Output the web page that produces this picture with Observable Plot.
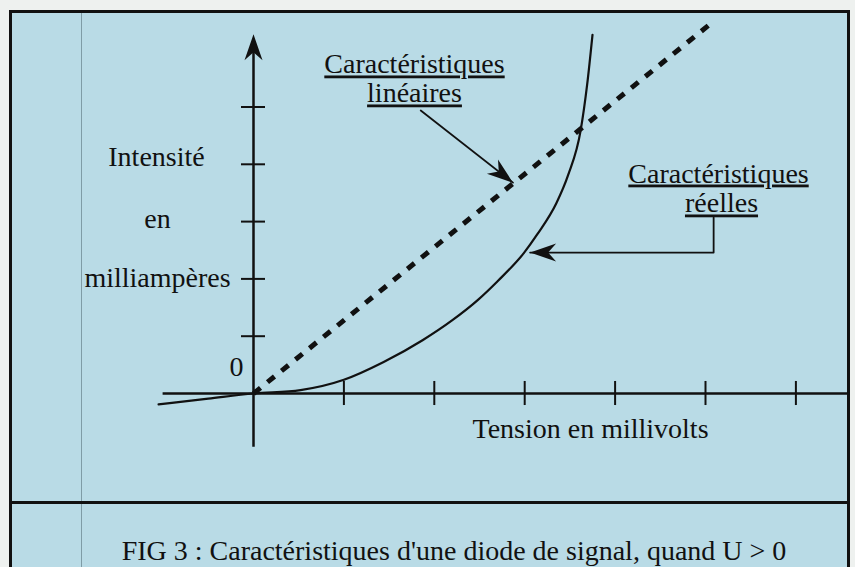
<!DOCTYPE html>
<html>
<head>
<meta charset="utf-8">
<script src="https://cdn.jsdelivr.net/npm/d3@7"></script>
<script src="https://cdn.jsdelivr.net/npm/@observablehq/plot@0.6"></script>
<style>
  html, body { margin: 0; padding: 0; overflow: hidden; }
  body { width: 855px; height: 567px; background: #eef1ef; position: relative; font-family: "Liberation Serif", serif; }
  #frame { position: absolute; left: 9px; top: 10px; width: 835px; height: 600px; border: 3px solid #111; background: #b9dbe6; }
  #divider { position: absolute; left: 9px; top: 501px; width: 841px; height: 3px; background: #111; }
  #rule { position: absolute; left: 81px; top: 13px; width: 1px; height: 560px; background: #7f9ca6; }
  #chart { position: absolute; left: 0; top: 0; }
  #caption { position: absolute; left: 54px; width: 800px; top: 537px; text-align: center; font-size: 28px; line-height: 28px; color: #111; white-space: nowrap; }
  svg text.ul { text-decoration: underline; text-decoration-thickness: 2px; text-underline-offset: 4px; }
</style>
</head>
<body>
<div id="frame"></div>
<div id="rule"></div>
<div id="divider"></div>
<div id="chart"></div>
<div id="caption">FIG 3 : Caractéristiques d'une diode de signal, quand U &gt; 0</div>
<script>
// Real diode characteristic (tension units, intensity units)
const realU = [-1.05, -0.5, 0, 0.52, 1.00, 1.44, 1.87, 2.20, 2.48, 2.70, 2.99, 3.14, 3.35, 3.48, 3.62, 3.69, 3.75];
const realI = [-0.19, -0.09, 0, 0.06, 0.24, 0.55, 0.93, 1.28, 1.63, 1.96, 2.45, 2.78, 3.32, 3.81, 4.60, 5.38, 6.26];
// Linear characteristic
const linU = [0, 5.03];
const linI = [0, 6.42];
// Axis ticks and extents
const xTicks = [1, 2, 3, 4, 5, 6];
const yTicks = [1, 2, 3, 4, 5];
const xAxisExtent = [-1.0, 6.6];
const yAxisExtent = [-0.94, 6.0];
const yArrowTip = [6.27];
// Leader lines
const linLeaderU = [1.85, 2.87];
const linLeaderI = [4.94, 3.68];
const realLeaderU = [5.09, 5.09, 3.06];
const realLeaderI = [3.07, 2.46, 2.46];
// Labels
const plainLabels = ["Intensité", "en", "milliampères", "0", "Tension en millivolts"];
const plainU = [-1.073, -1.062, -1.062, -0.188, 3.728];
const plainI = [3.962, 2.897, 1.850, 0.297, -0.785];
const ulLabels = ["Caractéristiques", "linéaires", "Caractéristiques", "réelles"];
const ulU = [1.781, 1.781, 5.144, 5.177];
const ulI = [5.585, 5.079, 3.682, 3.159];

const realData = realU.map((u, i) => ({u, i: realI[i]}));
const linData = linU.map((u, i) => ({u, i: linI[i]}));
const linLeader = linLeaderU.map((u, i) => ({u, i: linLeaderI[i]}));
const realLeader = realLeaderU.map((u, i) => ({u, i: realLeaderI[i]}));
const plain = plainLabels.map((t, k) => ({t, u: plainU[k], i: plainI[k]}));
const ul = ulLabels.map((t, k) => ({t, u: ulU[k], i: ulI[k]}));

// Barbed filled arrowhead, tip at origin, pointing up
const arrowHead = {
  draw(ctx) {
    const L = 26, W = 18, N = 8;
    ctx.moveTo(0, 0);
    ctx.lineTo(W / 2, L);
    ctx.lineTo(0, L - N);
    ctx.lineTo(-W / 2, L);
    ctx.closePath();
  }
};
const ink = "#111";

const W = 855, H = 500;
const plot = Plot.plot({
  width: W,
  height: H,
  marginLeft: 162.6,
  marginRight: 14.4,
  marginTop: 20.55,
  marginBottom: 49.7,
  x: {domain: [-1, 6.5], axis: null},
  y: {domain: [-1, 6.5], axis: null},
  style: {background: "transparent", overflow: "visible", fontFamily: "Liberation Serif, serif", color: ink},
  marks: [
    // axes
    Plot.ruleY([0], {x1: xAxisExtent[0], x2: xAxisExtent[1], stroke: ink, strokeWidth: 2.5}),
    Plot.ruleX([0], {y1: yAxisExtent[0], y2: yAxisExtent[1], stroke: ink, strokeWidth: 2.5}),
    Plot.ruleX(xTicks, {y1: -0.21, y2: 0.21, stroke: ink, strokeWidth: 2}),
    Plot.ruleY(yTicks, {x1: -0.133, x2: 0.133, stroke: ink, strokeWidth: 2}),
    Plot.dot(yArrowTip, {x: () => 0, y: d => d, symbol: arrowHead, fill: ink, stroke: "none", rotate: 0}),
    // linear characteristic
    Plot.line(linData, {x: "u", y: "i", stroke: ink, strokeWidth: 5, strokeDasharray: "9,9", strokeLinecap: "butt"}),
    // real characteristic
    Plot.line(realData, {x: "u", y: "i", stroke: ink, strokeWidth: 2.2, curve: "monotone-x"}),
    // leaders
    Plot.line(linLeader, {x: "u", y: "i", stroke: ink, strokeWidth: 1.8}),
    Plot.dot(linLeader.slice(1), {x: "u", y: "i", symbol: arrowHead, fill: ink, stroke: "none", rotate: 128}),
    Plot.line(realLeader, {x: "u", y: "i", stroke: ink, strokeWidth: 1.8}),
    Plot.dot(realLeader.slice(2), {x: "u", y: "i", symbol: arrowHead, fill: ink, stroke: "none", rotate: -90}),
    // labels
    Plot.text(plain, {x: "u", y: "i", text: "t", fontSize: 28, lineAnchor: "bottom", textAnchor: "middle", fill: ink}),
    Plot.text(ul, {x: "u", y: "i", text: "t", fontSize: 28, lineAnchor: "bottom", textAnchor: "middle", fill: ink})
  ]
});
d3.select(plot).selectAll("text").filter(function() { return ulLabels.includes(this.textContent); }).classed("ul", true);
document.getElementById("chart").appendChild(plot);
</script>
</body>
</html>
